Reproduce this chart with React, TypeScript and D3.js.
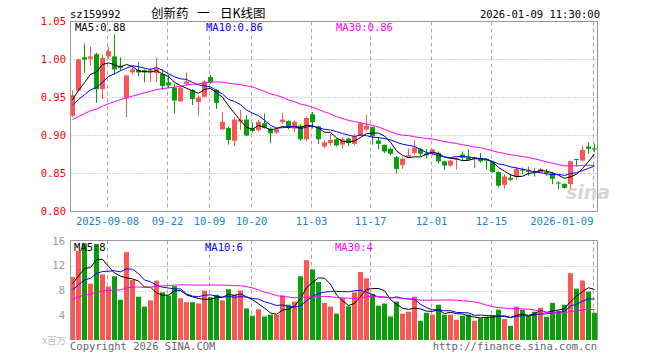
import * as d3 from 'd3';

const W = 660;
const H = 360;

// daily OHLC, 2025-08-29 .. 2026-01-09
const opens = [
  0.926, 0.959, 1.003, 1.001, 1.007, 0.961, 1.004, 1.004, 0.992, 0.949,
  0.983, 0.986, 0.986, 0.983, 0.982, 0.981, 0.970, 0.963, 0.945, 0.968,
  0.960, 0.944, 0.951, 0.977, 0.960, 0.908, 0.910, 0.893, 0.918, 0.921,
  0.909, 0.907, 0.916, 0.909, 0.904, 0.9175, 0.919, 0.909, 0.913, 0.895,
  0.928, 0.912, 0.8855, 0.890, 0.895, 0.888, 0.896, 0.889, 0.900, 0.908,
  0.911, 0.8935, 0.8877, 0.8825, 0.8715, 0.861, 0.8715, 0.877, 0.8825, 0.8763,
  0.876, 0.877, 0.866, 0.8605, 0.8684, 0.875, 0.872, 0.8688, 0.8706, 0.869,
  0.865, 0.852, 0.835, 0.8443, 0.8452, 0.855, 0.8535, 0.853, 0.852, 0.852,
  0.850, 0.838, 0.8364, 0.836, 0.869, 0.867, 0.8855, 0.883,
];
const highs = [
  0.959, 1.001, 1.021, 1.017, 1.009, 1.006, 1.017, 1.033, 1.003, 0.980,
  0.991, 0.997, 0.987, 0.989, 1.003, 0.987, 0.980, 0.968, 0.964, 0.983,
  0.961, 0.953, 0.973, 0.980, 0.961, 0.931, 0.912, 0.924, 0.934, 0.927,
  0.917, 0.921, 0.929, 0.911, 0.910, 0.930, 0.920, 0.920, 0.915, 0.925,
  0.931, 0.913, 0.894, 0.902, 0.896, 0.898, 0.897, 0.902, 0.918, 0.927,
  0.912, 0.898, 0.888, 0.884, 0.873, 0.8715, 0.883, 0.894, 0.8835, 0.8825,
  0.882, 0.879, 0.867, 0.868, 0.871, 0.879, 0.882, 0.872, 0.877, 0.870,
  0.866, 0.853, 0.849, 0.8496, 0.8592, 0.858, 0.859, 0.857, 0.857, 0.856,
  0.852, 0.840, 0.837, 0.867, 0.869, 0.887, 0.891, 0.889,
];
const lows = [
  0.924, 0.958, 0.983, 0.992, 0.943, 0.948, 1.001, 0.980, 0.985, 0.924,
  0.980, 0.978, 0.970, 0.970, 0.970, 0.960, 0.962, 0.929, 0.944, 0.966,
  0.940, 0.926, 0.950, 0.968, 0.935, 0.907, 0.888, 0.886, 0.907, 0.899,
  0.904, 0.905, 0.909, 0.890, 0.902, 0.915, 0.908, 0.905, 0.893, 0.893,
  0.909, 0.889, 0.883, 0.887, 0.8857, 0.882, 0.886, 0.887, 0.899, 0.906,
  0.888, 0.882, 0.877, 0.874, 0.850, 0.856, 0.870, 0.874, 0.873, 0.870,
  0.874, 0.8636, 0.855, 0.859, 0.855, 0.867, 0.867, 0.857, 0.8645, 0.855,
  0.851, 0.832, 0.830, 0.840, 0.8417, 0.849, 0.847, 0.846, 0.851, 0.847,
  0.836, 0.829, 0.830, 0.830, 0.859, 0.866, 0.876, 0.878,
];
const closes = [
  0.953, 1.000, 1.000, 1.004, 0.961, 1.002, 1.011, 0.987, 0.989, 0.979,
  0.987, 0.983, 0.983, 0.986, 0.988, 0.965, 0.966, 0.946, 0.963, 0.971,
  0.948, 0.950, 0.971, 0.970, 0.943, 0.918, 0.894, 0.921, 0.921, 0.900,
  0.906, 0.918, 0.910, 0.903, 0.908, 0.921, 0.910, 0.918, 0.895, 0.923,
  0.9175, 0.895, 0.891, 0.894, 0.887, 0.895, 0.890, 0.8985, 0.916, 0.913,
  0.899, 0.889, 0.879, 0.876, 0.856, 0.8695, 0.874, 0.884, 0.876, 0.874,
  0.8816, 0.866, 0.8605, 0.867, 0.8706, 0.8706, 0.868, 0.8715, 0.866, 0.867,
  0.852, 0.834, 0.846, 0.8417, 0.856, 0.854, 0.8525, 0.852, 0.856, 0.851,
  0.843, 0.837, 0.8311, 0.866, 0.868, 0.881, 0.8825, 0.882,
];
// volume, millions
const volumes = [
  10.2, 14.4, 15.6, 9.1, 15.5, 10.6, 8.65, 10.3, 6.5, 14.2,
  9.7, 7.0, 5.4, 6.4, 9.6, 7.7, 7.2, 8.7, 6.75, 6.1,
  6.1, 5.9, 8.0, 6.9, 7.3, 6.4, 8.2, 7.3, 8.0, 5.1,
  3.9, 4.95, 3.8, 4.1, 4.1, 7.2, 5.7, 6.2, 10.3, 12.9,
  11.4, 9.35, 6.0, 5.4, 4.25, 6.75, 5.45, 7.7, 11.0, 9.96,
  7.45, 5.55, 5.9, 3.8, 6.2, 4.25, 4.57, 7.0, 3.1, 4.4,
  4.1, 5.7, 4.1, 4.1, 3.27, 3.9, 4.1, 3.1, 3.5, 3.75,
  3.9, 4.9, 3.4, 2.3, 5.4, 4.9, 3.9, 4.57, 5.2, 3.75,
  6.0, 4.7, 5.7, 10.8, 8.3, 9.6, 7.8, 4.4,
];
// sessions before the window, only used to seed the moving averages
const priorCloses = [
  0.880, 0.885, 0.892, 0.898, 0.895, 0.902, 0.908, 0.905, 0.912, 0.918,
  0.915, 0.921, 0.926, 0.922, 0.928, 0.931, 0.925, 0.920, 0.924, 0.923,
  0.928, 0.935, 0.940, 0.932, 0.930, 0.938, 0.950, 0.948, 0.946,
];
const priorVolumes = [
  4.2, 5.1, 6.3, 5.5, 4.8, 6.9, 7.2, 5.9, 4.6, 5.3,
  6.8, 7.5, 5.2, 4.9, 6.1, 5.8, 6.4, 5.0, 6.5, 7.0,
  6.2, 7.8, 6.5, 7.4, 7.6, 8.1, 9.6, 8.4, 9.2,
];

const tickIndex = [6, 16, 23, 30, 40, 50, 60, 70, 87];
const tickLabels = ['2025-09-08', '09-22', '10-09', '10-20', '11-03', '11-17', '12-01', '12-15', '2026-01-09'];
const priceTicks = [0.80, 0.85, 0.90, 0.95, 1.00, 1.05];
const volTicks = [4, 8, 12, 16];
const titleParts = ['创新药', '一', '日K线图'];

const RED = '#ff5555';
const GREEN = '#08a00a';
const GRID = '#aaaaaa';
const MONO = '"DejaVu Sans Mono", monospace';
const CJK = '"Noto Sans CJK SC", sans-serif';

function movingAvg(prior: number[], vals: number[], n: number) {
  const all = prior.concat(vals);
  const off = prior.length;
  return vals.map((_, i) => d3.mean(all.slice(off + i - n + 1, off + i + 1)) as number);
}

export default function App() {
  const n = closes.length;
  const x = d3.scaleLinear().domain([0, n - 1]).range([72.5, 72.5 + 6 * (n - 1)]);
  const y = d3.scaleLinear().domain([0.8, 1.05]).range([211.5, 21.5]);
  const yv = d3.scaleLinear().domain([0, 16]).range([340, 241]);

  const left = 70.5;
  const right = 597.5;

  const ma = [5, 10, 30].map((k) => movingAvg(priorCloses, closes, k));
  const vma = [5, 10, 30].map((k) => movingAvg(priorVolumes, volumes, k));
  const maColors = ['#000000', '#0000ff', '#ff00ff'];
  const maX = [75, 206, 336];
  const titleX = [151, 197, 220];

  const priceLine = d3.line<number>().x((_, i) => x(i)).y((d) => y(d));
  const volLine = d3.line<number>().x((_, i) => x(i)).y((d) => yv(d));

  const up = (i: number) => closes[i] >= opens[i];

  return (
    <svg width={W} height={H} style={{ position: 'absolute', left: 0, top: 0, background: '#fff' }}
      fontFamily={MONO}>
      {/* header */}
      <text x={70} y={18} fontSize={10.5} fill="#000">sz159992</text>
      {titleParts.map((t, k) => (
        <text key={t} x={titleX[k]} y={17.5} fontSize={12.5} fill="#000" fontFamily={CJK}>{t}</text>
      ))}
      <text x={600} y={18} fontSize={10.5} fill="#000" textAnchor="end">2026-01-09 11:30:00</text>

      {/* price grid */}
      {priceTicks.slice(1, -1).map((t) => (
        <line key={t} x1={left} x2={right} y1={y(t)} y2={y(t)} stroke={GRID} strokeDasharray="1,2" />
      ))}
      {priceTicks.map((t) => (
        <text key={t} x={66} y={y(t)} dy="0.35em" fontSize={10.5} fill="#ff0000" textAnchor="end">
          {d3.format('.2f')(t)}
        </text>
      ))}
      {volTicks.slice(0, -1).map((t) => (
        <line key={t} x1={left} x2={right} y1={Math.round(yv(t)) + 0.5} y2={Math.round(yv(t)) + 0.5}
          stroke={GRID} strokeDasharray="1,2" />
      ))}
      {volTicks.map((t) => (
        <text key={t} x={65} y={yv(t)} dy="0.35em" fontSize={10.5} fill="#999" textAnchor="end">{t}</text>
      ))}
      <text x={66} y={344} fontSize={9.5} fill="#bbb" textAnchor="end" fontFamily={CJK}>x百万</text>

      {tickIndex.map((ti, k) => {
        const gx = Math.round(x(ti) - 2) + 0.5;
        const last = k === tickIndex.length - 1;
        return (
          <g key={ti}>
            <line x1={gx} x2={gx} y1={21.5} y2={211.5} stroke={GRID} strokeDasharray="4,3" />
            <line x1={gx} x2={gx} y1={240.5} y2={340} stroke={GRID} strokeDasharray="4,3" />
            <text x={gx} y={225} fontSize={10.5} fill="#1683d8" textAnchor={last ? 'end' : 'middle'}>
              {tickLabels[k]}
            </text>
          </g>
        );
      })}

      {/* watermark */}
      <text x={566} y={199} fontSize={19} fontWeight="bold" fontStyle="italic" fill="#d6d6d6"
        fontFamily="Verdana, 'DejaVu Sans', sans-serif">sina</text>

      {/* candles */}
      {closes.map((c, i) => {
        const col = up(i) ? RED : GREEN;
        const top = y(Math.max(opens[i], c));
        const bot = y(Math.min(opens[i], c));
        return (
          <g key={i}>
            <line x1={x(i)} x2={x(i)} y1={y(highs[i])} y2={y(lows[i])} stroke={col} />
            <rect x={x(i) - 2.5} y={top} width={5} height={Math.max(1, bot - top)} fill={col} />
          </g>
        );
      })}
      {ma.map((m, k) => (
        <path key={k} d={priceLine(m) ?? ''} fill="none" stroke={maColors[k]} strokeWidth={1} />
      ))}

      {/* volume bars */}
      {volumes.map((v, i) => (
        <rect key={i} x={x(i) - 2.5} y={yv(v)} width={5} height={340 - yv(v)} fill={up(i) ? RED : GREEN} />
      ))}
      {vma.map((m, k) => (
        <path key={k} d={volLine(m) ?? ''} fill="none" stroke={maColors[k]} strokeWidth={1} />
      ))}

      {/* frames */}
      <rect x={left} y={21.5} width={right - left} height={190} fill="none" stroke="#999" />
      <path d={`M${left},340V240.5H${right}V340`} fill="none" stroke="#999" />

      {/* legends */}
      {['MA5', 'MA10', 'MA30'].map((name, k) => (
        <text key={name} x={maX[k]} y={31} fontSize={10.5} fill={maColors[k]}>
          {`${name}:${d3.format('.2f')(ma[k][n - 1])}`}
        </text>
      ))}
      {['MA5', 'MA10', 'MA30'].map((name, k) => (
        <text key={name} x={maX[k] - 1} y={251} fontSize={10.5} fill={maColors[k]}>
          {`${name}:${Math.floor(vma[k][n - 1])}`}
        </text>
      ))}

      <text x={70} y={350} fontSize={10.5} fill="#666">Copyright 2026 SINA.COM</text>
      <text x={597} y={350} fontSize={10.5} fill="#666" textAnchor="end">http://finance.sina.com.cn</text>
    </svg>
  );
}
